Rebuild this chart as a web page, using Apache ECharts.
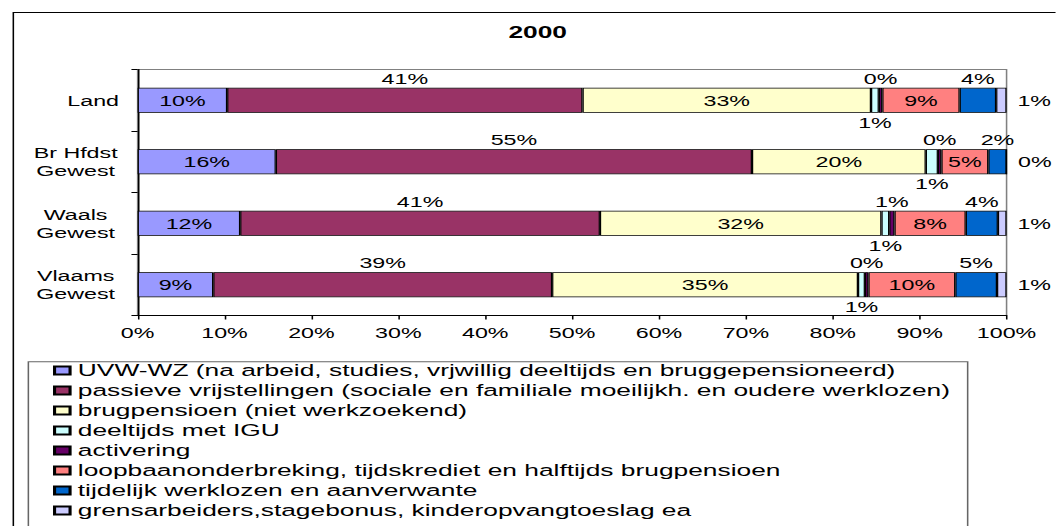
<!DOCTYPE html>
<html>
<head>
<meta charset="utf-8">
<script src="https://cdn.jsdelivr.net/npm/echarts@6/dist/echarts.min.js"></script>
<style>
html,body{margin:0;padding:0;background:#fff;overflow:hidden;}
#wrap{width:1056px;height:526px;overflow:hidden;position:relative;}
#chart{width:681px;height:526px;transform:scaleX(1.55);transform-origin:0 0;}
</style>
</head>
<body>
<div id="wrap"><div id="chart"></div></div>
<script>
const title = '2000';
const categories = ['Land', 'Br Hfdst\nGewest', 'Waals\nGewest', 'Vlaams\nGewest'];
const seriesNames = [
  'UVW-WZ (na arbeid, studies, vrjwillig deeltijds en bruggepensioneerd)',
  'passieve vrijstellingen (sociale en familiale moeilijkh. en oudere werklozen)',
  'brugpensioen (niet werkzoekend)',
  'deeltijds met IGU',
  'activering',
  'loopbaanonderbreking, tijdskrediet en halftijds brugpensioen',
  'tijdelijk werklozen en aanverwante',
  'grensarbeiders,stagebonus, kinderopvangtoeslag ea'
];
const uvw        = [10.3, 15.9, 11.8, 8.7];
const passieve   = [40.9, 54.8, 41.4, 39.0];
const brug       = [33.2, 20.0, 32.4, 35.2];
const deeltijds  = [0.9, 1.4, 0.9, 0.8];
const activering = [0.4, 0.4, 0.6, 0.4];
const loopbaan   = [8.9, 5.4, 8.2, 10.0];
const tijdelijk  = [4.2, 2.1, 3.7, 4.8];
const grens      = [1.2, 0.0, 1.0, 1.1];
const xTickValues = [0, 10, 20, 30, 40, 50, 60, 70, 80, 90, 100];

const seriesData = [uvw, passieve, brug, deeltijds, activering, loopbaan, tijdelijk, grens];
const colors = ['#9999FF', '#993366', '#FFFFCC', '#CCFFFF', '#660066', '#FF8080', '#0066CC', '#CCCCFF'];
const labelPos = ['inside', 'top', 'inside', 'bottom', 'top', 'inside', 'top', 'right'];
const labelDist = [0, 2, 0, 2, 2, 0, 2, 7];

const FONT = 'Liberation Sans, Arial, sans-serif';
const chart = echarts.init(document.getElementById('chart'), null, {renderer: 'svg'});

const series = seriesData.map((d, i) => ({
  name: seriesNames[i],
  type: 'bar',
  stack: 'total',
  data: d,
  barWidth: 25,
  itemStyle: {color: colors[i], borderColor: '#000', borderWidth: 0.8},
  label: {
    show: true,
    position: labelPos[i],
    distance: labelDist[i],
    color: '#000',
    fontFamily: FONT,
    fontSize: 15,
    formatter: p => Math.round(p.value) + '%'
  },
  emphasis: {disabled: true}
}));

chart.setOption({
  animation: false,
  backgroundColor: '#fff',
  title: {
    text: title,
    left: 328,
    top: 24,
    padding: 0,
    textStyle: {fontFamily: FONT, fontSize: 17, fontWeight: 'bold', color: '#000'}
  },
  grid: {
    left: 88.8, right: 31.6, top: 69.5, bottom: 210.5,
    show: true, borderColor: '#808080', borderWidth: 1, backgroundColor: 'transparent'
  },
  legend: {
    type: 'plain',
    orient: 'vertical',
    left: 34.2,
    top: 362,
    height: 300,
    padding: 0,
    itemWidth: 10,
    itemHeight: 8,
    itemGap: 3,
    icon: 'rect',
    selectedMode: false,
    textStyle: {fontFamily: FONT, fontSize: 17, color: '#000'},
    data: seriesNames
  },
  xAxis: {
    type: 'value',
    min: xTickValues[0],
    max: xTickValues[xTickValues.length - 1],
    interval: xTickValues[1] - xTickValues[0],
    axisLine: {show: true, lineStyle: {color: '#000', width: 1}},
    axisTick: {show: true, length: 4, lineStyle: {color: '#000'}},
    splitLine: {show: false},
    axisLabel: {formatter: '{value}%', fontFamily: FONT, fontSize: 15, color: '#000', margin: 10}
  },
  yAxis: {
    type: 'category',
    data: categories,
    inverse: true,
    axisLine: {show: true, lineStyle: {color: '#000', width: 1}},
    axisTick: {show: true, length: 4, lineStyle: {color: '#000'}},
    axisLabel: {
      fontFamily: FONT, fontSize: 15, color: '#000', margin: 12, lineHeight: 18,
      formatter: v => v.indexOf('\n') >= 0 ? v.split('\n').map(l => '{c|' + l + '}').join('\n') : v,
      rich: {c: {width: 56, align: 'center', fontFamily: FONT, fontSize: 15, color: '#000', lineHeight: 18}}
    }
  },
  graphic: [
    {type: 'rect', left: 6.1, top: 10, shape: {width: 900, height: 700}, style: {fill: 'none', stroke: '#000', lineWidth: 1}, silent: true, z: -10},
    {type: 'rect', left: 15.8, top: 359.3, shape: {width: 606, height: 300}, style: {fill: 'none', stroke: '#666', lineWidth: 1}, silent: true, z: -10}
  ],
  series: series
});
</script>
</body>
</html>
